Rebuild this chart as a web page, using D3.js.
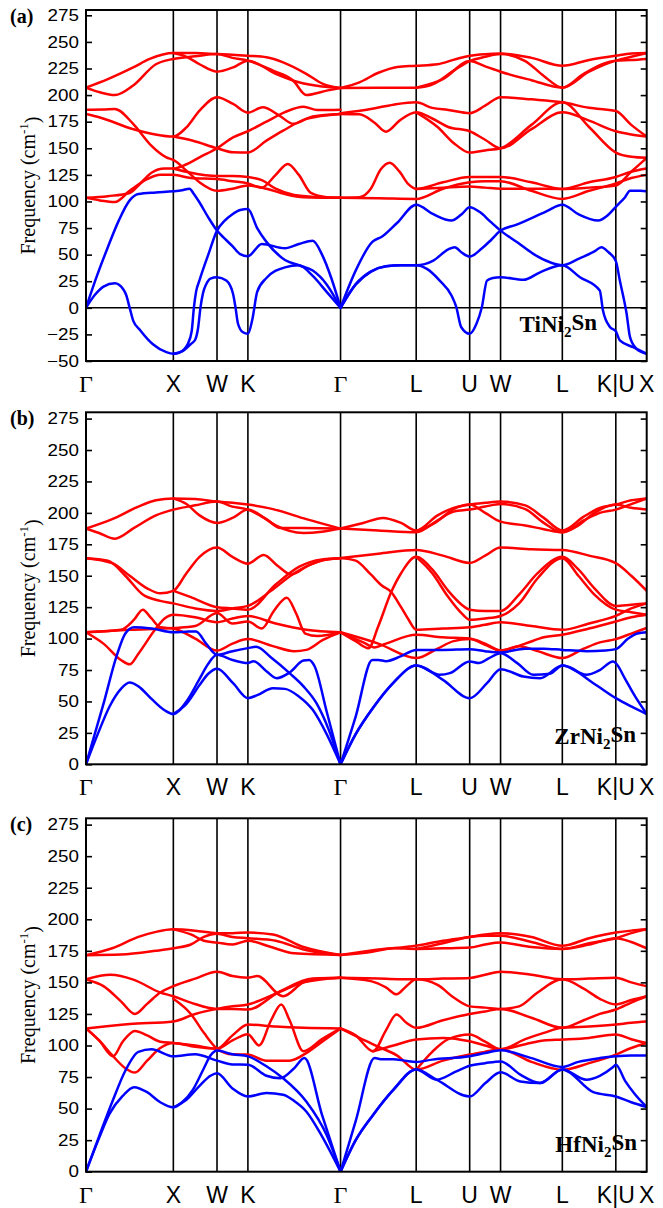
<!DOCTYPE html>
<html>
<head>
<meta charset="utf-8">
<script src="https://cdn.jsdelivr.net/npm/d3@7/dist/d3.min.js"></script>
<style>
  html, body { margin: 0; padding: 0; background: #fff; }
  svg { display: block; }
</style>
</head>
<body>
<svg id="chart" width="663" height="1208"></svg>
<script>
// High-symmetry path through the fcc Brillouin zone
const pathLabels = ["Γ", "X", "W", "K", "Γ", "L", "U", "W", "L", "K|U", "X"];
// Segment lengths in units of 2π/a
const segmentLengths = [1, 0.5, 0.3536, 1.0607, 0.8660, 0.6124, 0.3536, 0.7071, 0.6124, 0.3536];

const ticksTi = [-50, -25, 0, 25, 50, 75, 100, 125, 150, 175, 200, 225, 250, 275];
const ticksZrHf = [0, 25, 50, 75, 100, 125, 150, 175, 200, 225, 250, 275];

// Each branch: [k, frequency in cm^-1], k = segment index + fractional position along the segment

// ---------- TiNi2Sn ----------
const tiAcoustic = [
  [[0,0],[0.125,30],[0.25,57],[0.375,82],[0.5,101],[0.6,107],[0.8,108.5],[1,109.5],[1.2,110.5],[1.37,112],[1.47,107],[1.6,99],[1.8,85],[2,72.6],[2.25,65],[2.5,58],[2.75,50.5],[3,48.5],[3.15,60],[3.4,56],[3.55,60],[3.7,63],[3.8,50],[3.9,28],[4,0]],
  [[0,0],[0.1,12],[0.2,20],[0.33,23],[0.43,17],[0.46,12],[0.5,0],[0.54,-12],[0.62,-21],[0.77,-34.5],[0.92,-41.7],[1,-43.2],[1.14,-42],[1.33,-34],[1.42,-22],[1.47,0],[1.52,15],[1.6,26],[1.8,50],[2,72.6],[2.25,82],[2.5,88],[2.75,92],[3,93],[3.1,75],[3.2,62],[3.4,45],[3.55,40],[3.7,35],[3.85,22],[4,0]],
  [[1,-43.2],[1.2,-41],[1.4,-34],[1.5,-30],[1.57,-18],[1.62,0],[1.68,14],[1.75,22],[1.85,27.5],[2,28.8],[2.3,25.6],[2.52,13],[2.6,0],[2.68,-15],[2.84,-23],[3,-24.4],[3.05,-10],[3.1,15],[3.2,28],[3.4,38],[3.55,40],[3.7,30],[3.85,15],[4,0]],
  [[4,0],[4.2,35],[4.42,62],[4.55,67],[4.75,80],[5,97],[5.32,88],[5.66,82],[5.85,88],[6,94.5],[6.33,90],[6.67,81],[7,72.6],[7.27,61.6],[7.53,50.7],[7.8,42.8],[8,40],[8.3,46],[8.6,53],[8.73,57],[8.87,52],[9,44],[9.13,25.6],[9.35,-5.6],[9.46,-27.6],[9.67,-38.5],[10,-43.2]],
  [[4,0],[4.2,22],[4.4,34],[4.6,39],[4.8,40],[5,40],[5.32,44.4],[5.6,55],[5.72,57],[5.85,52],[6,48.2],[6.4,56],[6.7,64],[7,72.6],[7.25,78],[7.53,85],[7.75,91],[8,97],[8.3,88],[8.67,82],[8.85,87],[9,95],[9.3,104],[9.46,110],[9.8,110],[10,109.5]],
  [[4,0],[4.2,22],[4.4,34],[4.6,39],[4.8,40],[5,40],[5.2,36.6],[5.44,25.6],[5.66,11.6],[5.75,0.6],[5.84,-18],[6,-24.4],[6.22,-15],[6.39,0],[6.56,25.6],[6.75,28],[7,28.8],[7.37,26.3],[7.64,33.4],[8,40],[8.33,28.8],[8.7,16.3],[8.76,-2.5],[8.89,-18],[9,-22],[9.13,-30.7],[9.56,-37],[10,-43.2]]
];
const tiOptical = [
  [[0,207],[0.25,215],[0.54,226],[0.73,234],[1,239.5],[1.5,239.5],[2,238.6],[2.5,238],[3,237],[3.2,235.5],[3.38,230.8],[3.63,220],[3.81,210.5],[4,206.7]],
  [[0,207],[0.16,202.6],[0.33,200],[0.54,209],[0.8,229],[1,234],[1.5,236.5],[2,238.6],[2.5,235],[3,232.4],[3.27,223],[3.49,213.5],[3.63,200.1],[3.85,204.2],[4,206.7]],
  [[1,239.5],[1.3,236],[1.6,229],[2,222],[2.52,226],[3,232.4],[3.3,220],[3.55,212],[3.8,208],[4,206.7]],
  [[0,186.3],[0.2,186.5],[0.33,187],[0.54,172.9],[0.73,154],[0.92,141.5],[1,139],[1.3,129],[1.6,118],[2,110],[2.5,112],[3,115],[3.2,112],[3.4,107],[3.6,104],[4,103.4]],
  [[0,182.3],[0.16,179],[0.54,168],[1,161],[1.3,169.7],[1.6,185.4],[2,198],[2.52,191.7],[3,183.5],[3.16,188.5],[3.34,180.7],[3.49,173],[3.7,180],[4,182.3]],
  [[1,161],[1.45,157],[2,150],[2.52,146.2],[3,146],[3.2,157.2],[3.38,166.6],[3.63,177.6],[4,182.3]],
  [[0,103.4],[0.16,101],[0.33,99.5],[0.5,110],[0.7,121],[0.85,125],[1,125],[1.4,122],[2,121],[2.5,119],[3,117],[3.15,113],[3.3,125],[3.43,135.3],[3.55,125],[3.68,108],[3.85,104],[4,103.4]],
  [[0,103.4],[0.25,105],[0.5,108],[0.6,115],[0.75,127],[0.9,131],[1,131],[1.3,135],[1.6,141.5],[2,150],[2.52,160.3],[3,166],[3.2,175],[3.4,184],[3.6,189],[3.75,186],[4,186.3]],
  [[1,131],[1.4,127],[2,124],[2.5,124],[3,123],[3.15,120],[3.3,112],[3.5,106],[3.75,104],[4,103.4]],
  [[4,206.7],[4.25,212],[4.5,221],[4.75,226.5],[5,227.6],[5.4,229],[5.75,234],[6,237],[6.5,238.5],[7,239],[7.5,235],[8,227.6],[8.5,233],[9,237],[9.5,239],[10,239.5]],
  [[4,206.7],[4.5,207],[5,207],[5.35,211],[5.7,223],[6,232],[6.5,236],[7,238.6],[7.4,232],[7.7,218],[8,207],[8.4,220],[9,232.4],[9.5,233],[10,234]],
  [[5,207],[5.5,215],[6,232],[6.5,227],[7,222],[7.5,214],[8,207],[8.5,222],[9,232.4],[9.5,236],[10,239.5]],
  [[4,183],[4.4,187],[4.7,191],[5,193.2],[5.3,188],[5.6,186],[6,183],[6.5,190],[7,198],[7.5,196],[8,193.2],[8.5,188],[9,185],[9.5,172],[10,161]],
  [[4,182.3],[4.25,182],[4.45,174],[4.6,165.6],[4.78,176],[5,183.8],[5.3,178],[5.6,170],[6,166],[6.5,158],[7,150],[7.5,168],[8,183.8],[8.5,176],[9,166],[9.5,163],[10,161]],
  [[5,183.8],[5.4,170],[5.7,155],[6,146],[6.5,148],[7,150],[7.5,172],[8,193.2],[8.5,170],[9,146],[9.5,142],[10,141]],
  [[4,103.4],[4.25,104],[4.4,112],[4.53,130],[4.65,136.5],[4.78,128],[4.9,116],[5,111.8],[5.5,118],[6,123],[6.5,123],[7,123],[7.5,118],[8,111.8],[8.5,118],[9,123],[9.5,128],[10,131]],
  [[4,103.4],[4.5,103],[5,102.4],[5.5,112],[6,118],[6.5,119],[7,119],[7.5,110],[8,102.4],[8.5,110],[9,117],[9.5,122],[10,125]],
  [[5,111.8],[5.5,113],[6,114],[6.5,113],[7,112],[7.5,112],[8,111.8],[8.5,113],[9,115],[9.5,128],[10,141]]
];

// ---------- ZrNi2Sn ----------
const zrAcoustic = [
  [[0,0],[0.2,48],[0.35,86],[0.45,104],[0.55,109],[0.75,108],[1,105],[1.3,105.5],[1.52,105.7],[1.75,96],[2,87.1],[2.5,90],[3,92.4],[3.09,93.5],[3.25,85],[3.45,72.5],[3.6,62],[3.74,48.6],[3.87,28],[4,0]],
  [[0,0],[0.14,25],[0.27,46],[0.4,60],[0.5,65],[0.6,62],[0.75,52],[0.9,43],[1,40],[1.3,50],[1.6,68],[1.8,80],[2,87.1],[2.5,83],[3,80.5],[3.06,82],[3.2,74],[3.31,68.5],[3.45,73],[3.6,82.5],[3.66,83],[3.72,78],[3.85,42],[4,0]],
  [[1,40],[1.3,48],[1.6,63],[1.8,72],[2,76],[2.52,64.5],[3,52.6],[3.1,55],[3.27,60.5],[3.4,60],[3.55,54],[3.7,43.3],[3.85,24],[4,0]],
  [[4,0],[4.2,38],[4.42,83],[4.5,83],[4.6,82],[4.8,86],[5,91],[5.5,91],[6,91.6],[6.5,90],[7,89],[7.4,92],[7.7,92],[8,91],[8.45,90],[8.8,90.5],[9,91.6],[9.4,100],[9.7,104],[10,105]],
  [[4,0],[4.2,24],[4.43,45],[4.7,65],[5,78.6],[5.44,71.2],[5.63,72.5],[6,81.8],[6.3,80.5],[6.6,84],[7,88.4],[7.27,80.5],[7.53,71.2],[7.8,72],[8,78.6],[8.45,71.2],[8.7,75],[8.95,81.8],[9,80.5],[9.3,68],[9.6,55],[10,40]],
  [[4,0],[4.2,24],[4.43,45],[4.7,65],[5,78.6],[5.5,67.2],[6,52.6],[6.56,64.5],[7,75.7],[7.37,69.8],[7.64,68.5],[8,78.6],[8.58,64.5],[9,52.6],[9.5,46],[10,40]]
];
const zrOptical = [
  [[0,187.5],[0.3,195],[0.6,205],[0.8,210],[1,211.5],[1.5,211],[2,209],[2.5,208],[3,206.6],[3.27,203],[3.63,195],[4,187.5]],
  [[0,187.5],[0.15,184],[0.33,179.5],[0.55,188],[0.8,198],[1,202.6],[1.5,206],[2,209],[2.5,205],[3,202.6],[3.15,197],[3.3,190],[3.6,184],[3.8,185],[4,187.5]],
  [[1,211.5],[1.3,207],[1.6,198],[2,192],[2.5,196],[3,202.6],[3.2,195],[3.35,188],[3.6,188],[4,187.5]],
  [[0,164],[0.25,162],[0.45,150],[0.65,135],[0.85,130],[1,128],[1.5,124],[2,122],[2.5,124],[3,126],[3.25,138],[3.5,152],[3.75,161],[4,164]],
  [[0,164],[0.3,160],[0.5,150],[0.7,140],[0.85,136],[1,138],[1.3,152],[1.6,165],[2,172.5],[2.5,165],[3,159.6],[3.17,166.5],[3.32,158],[3.47,151],[3.65,158],[3.85,163],[4,164]],
  [[1,138],[1.4,133],[2,125],[2.5,124],[3,123],[3.3,143],[3.55,157],[3.8,163],[4,164]],
  [[0,105],[0.2,96],[0.4,83],[0.5,79.5],[0.6,88],[0.8,108],[0.9,116],[1,119],[1.5,117],[2,113],[2.5,116],[3,118],[3.3,112],[3.63,107],[4,105]],
  [[0,105],[0.4,107],[0.55,115],[0.65,123],[0.75,116],[0.85,109],[1,108],[1.5,100],[2,90.5],[2.5,96],[3,99.6],[3.27,94],[3.5,90],[3.63,91],[3.81,99],[4,105]],
  [[0,105],[0.5,107],[1,108.4],[1.5,110],[2,120.3],[2.5,112],[3,113.6],[3.15,108],[3.28,122],[3.42,132.5],[3.52,120],[3.62,104],[3.75,102],[4,105]],
  [[4,187.5],[4.3,192],[4.56,196],[4.8,192],[5,186],[5.4,198],[5.7,204],[6,206.6],[6.5,208],[7,209],[7.4,206],[7.7,196],[8,186],[8.4,197],[8.7,204],[9,206.6],[9.5,210],[10,211.5]],
  [[4,187.5],[4.5,186],[5,184.5],[5.4,194],[5.7,201],[6,202.6],[6.5,205],[7,207],[7.4,203],[7.7,192],[8,184.5],[8.4,194],[8.7,200],[9,202.6],[9.5,207],[10,211.5]],
  [[5,185],[5.35,192],[5.7,203],[6,206.6],[6.5,200],[7,193],[7.4,190],[7.7,187],[8,184.5],[8.3,190],[8.6,200],[9,206.6],[9.5,204],[10,202.6]],
  [[4,164],[4.5,167.5],[5,170.5],[5.5,166],[6,160.2],[6.5,166],[7,172.5],[7.5,171],[8,170.5],[8.5,166],[9,160],[9.5,150],[10,138]],
  [[4,164],[4.2,162],[4.4,151],[4.55,142],[4.67,137],[4.8,125],[4.9,115],[5,107],[5.5,108],[6,109],[6.5,111],[7,113],[7.5,110],[8,107],[8.5,112],[9,118],[9.5,124],[10,128]],
  [[4,105],[4.2,98],[4.37,92.4],[4.5,110],[4.67,137],[4.8,152],[5,165],[5.3,155],[5.6,138],[5.85,127],[6,123],[6.5,122],[7,122],[7.3,135],[7.6,152],[8,165],[8.3,155],[8.6,140],[9,126],[9.5,127],[10,128]],
  [[5,165],[5.3,152],[5.6,133],[5.85,120],[6,115],[6.5,116],[7,118],[7.3,128],[7.6,148],[8,164],[8.3,150],[8.6,135],[9,123],[9.5,121],[10,119]],
  [[4,105],[4.5,96],[5,84.5],[5.4,92],[5.7,98],[6,99.6],[6.5,95],[7,90.5],[7.3,94],[7.6,90],[8,84.5],[8.4,92],[8.7,97],[9,99.6],[9.5,104],[10,108.4]],
  [[4,105],[4.3,97],[4.45,93],[4.6,96],[5,103],[5.5,101],[6,100],[6.5,96],[7,90.5],[7.4,96],[7.7,101],[8,103],[8.5,108],[9,113.6],[9.5,117],[10,119]]
];

// ---------- HfNi2Sn ----------
const hfAcoustic = [
  [[0,0],[0.15,28],[0.31,57],[0.45,80],[0.6,95],[0.75,97],[1,91.4],[1.5,93],[2,88],[2.5,85],[3,84.8],[3.2,76],[3.35,74],[3.5,82],[3.61,90],[3.8,45],[4,0]],
  [[0,0],[0.14,25],[0.27,46],[0.42,60],[0.55,67],[0.7,63],[0.85,55],[1,51],[1.2,55],[1.45,65],[1.7,82],[1.85,92],[2,96],[2.5,93],[3,91.4],[3.2,83.5],[3.38,74],[3.63,55.6],[3.85,29],[4,0]],
  [[1,51],[1.3,57],[1.6,68],[1.85,76],[2,78],[2.5,66],[3,59.6],[3.2,62.3],[3.38,61],[3.5,56],[3.63,47.7],[3.8,28],[4,0]],
  [[4,0],[4.2,40],[4.45,90],[4.55,89],[4.7,89],[4.85,88],[5,87],[5.3,88.8],[6,91.4],[6.5,94],[7,96.2],[7.5,90],[8,83],[8.3,87],[8.7,90],[9,91.4],[9.5,92],[10,92]],
  [[4,0],[4.2,25],[4.43,45],[4.7,65],[5,81],[5.38,72.9],[6,59.6],[6.5,70],[7,78.7],[7.32,71.5],[7.64,70.3],[8,81],[8.58,63],[9,59.6],[9.5,55],[10,51.2]],
  [[4,0],[4.2,25],[4.43,45],[4.7,65],[5,81],[5.38,72.9],[5.75,79.5],[6,84],[6.5,86],[7,87.4],[7.32,76.9],[7.64,70.3],[8,81],[8.45,72.9],[8.7,76],[8.95,83],[9,84.8],[9.3,72],[9.6,62],[10,51.2]]
];
const hfOptical = [
  [[0,171.5],[0.3,177],[0.6,186],[0.8,190],[1,192],[1.5,191],[2,189],[2.5,189],[3,189.5],[3.27,188],[3.6,178],[4,171.7]],
  [[0,171.5],[0.4,172],[0.8,175],[1,177],[1.4,180],[1.7,186],[2,188.5],[2.5,186],[3,185],[3.3,183],[3.6,176],[4,171.7]],
  [[1,192],[1.4,188],[1.7,183],[2,181.5],[2.5,180],[3,183],[3.25,178],[3.5,173],[4,171.7]],
  [[0,152.4],[0.28,156],[0.55,152],[0.85,142],[1,139],[1.4,134],[2,129],[2.5,129],[3,128.5],[3.35,143],[3.7,153],[4,153.7]],
  [[0,152.4],[0.2,147],[0.4,135],[0.56,125],[0.7,133],[0.85,142],[1,147],[1.5,153],[2,158.5],[2.5,155],[3,153.7],[3.1,155],[3.38,139],[3.6,150],[3.8,153],[4,153.7]],
  [[0,113.5],[0.5,117],[1,119],[1.5,125],[2,129],[2.5,131],[3,132.5],[3.3,141],[3.6,150],[4,153.7]],
  [[0,113.5],[0.15,104],[0.31,91.5],[0.42,103],[0.56,111.5],[0.7,108],[0.85,103],[1,102],[1.5,100],[2,97.5],[2.5,104],[3,109],[3.12,100],[3.25,120],[3.36,132.5],[3.45,120],[3.6,95.4],[3.8,105],[4,113.5]],
  [[0,113.5],[0.15,104],[0.31,91.5],[0.45,82],[0.56,78.5],[0.7,88],[0.85,98],[1,102],[1.5,99],[2,97.5],[2.5,108],[3,116.6],[3.3,115],[3.6,114],[4,113.5]],
  [[1,137],[1.4,125],[1.7,110],[2,97.5],[2.5,93],[3,92.8],[3.2,88],[3.45,88],[3.63,94],[3.82,104],[4,113.5]],
  [[4,171.7],[4.5,176],[5,179],[5.5,183],[6,186],[6.5,188],[7,189],[7.5,186],[8,179],[8.5,185],[9,189.5],[9.5,191],[10,192]],
  [[4,171.7],[4.4,174],[4.7,177],[5,176.5],[5.5,177],[6,177.6],[6.5,180],[7,181.5],[7.5,178],[8,176.5],[8.5,180],[9,185],[9.5,182],[10,177]],
  [[5,176.5],[5.5,181],[6,186],[6.5,187],[7,187],[7.5,182],[8,176.5],[8.5,181],[9,185],[9.5,189],[10,192]],
  [[4,153.7],[4.5,153],[5,152.4],[5.5,153],[6,153.5],[6.5,156],[7,158.5],[7.5,156],[8,152.4],[8.5,153],[9,153.7],[9.5,150],[10,147]],
  [[4,153.7],[4.4,151],[4.6,146],[4.74,140.5],[4.87,147],[5,152.4],[5.4,148],[5.7,138],[6,131],[6.5,130],[7,129],[7.3,131],[7.6,142],[8,152.4],[8.4,145],[8.7,137],[9,132.5],[9.5,136],[10,139]],
  [[4,113.5],[4.2,108],[4.43,95.4],[4.6,112],[4.74,124.6],[4.87,118],[5,114],[5.5,120],[6,125],[6.5,127],[7,129],[7.5,122],[8,114],[8.4,120],[8.7,125],[9,128.5],[9.5,134],[10,139]],
  [[4,113.5],[4.25,106],[4.5,99],[4.75,92],[5,80.8],[5.5,88],[6,92.8],[6.5,95],[7,97],[7.5,87],[8,80.8],[8.5,86],[9,92.8],[9.5,98],[10,102]],
  [[4.43,95.4],[4.7,100],[5,104.7],[5.5,106],[6,103.3],[6.5,100],[7,97],[7.4,101],[7.7,104],[8,104.7],[8.5,106],[9,108.7],[9.5,105],[10,102]],
  [[5,80.8],[5.3,95],[5.6,105],[6,108.7],[6.5,103],[7,97],[7.4,105],[7.7,110],[8,114],[8.5,115],[9,116.6],[9.5,118],[10,119]]
];

const panels = [
  { tag: "(a)", formula: ["TiNi", "2", "Sn"], acoustic: tiAcoustic, optical: tiOptical, yMin: -50, ticks: ticksTi,
    top: 10, bottom: 361, nameX: 597, nameY: 332 },
  { tag: "(b)", formula: ["ZrNi", "2", "Sn"], acoustic: zrAcoustic, optical: zrOptical, yMin: 0, ticks: ticksZrHf,
    top: 412.3, bottom: 764.3, nameX: 636, nameY: 744 },
  { tag: "(c)", formula: ["HfNi", "2", "Sn"], acoustic: hfAcoustic, optical: hfOptical, yMin: 0, ticks: ticksZrHf,
    top: 818.3, bottom: 1171.7, nameX: 637, nameY: 1152 }
];

const yMax = 280;
const plotLeft = 86, plotRight = 646.7;
const sansFont = "Liberation Sans, Arial, Helvetica, sans-serif";
const serifFont = "Liberation Serif, Times New Roman, Times, serif";

const cumulative = [0];
segmentLengths.forEach((len, i) => cumulative.push(cumulative[i] + len));
const kToDistance = k => {
  const s = Math.min(Math.floor(k), segmentLengths.length - 1);
  return cumulative[s] + (k - s) * segmentLengths[s];
};

const x = d3.scaleLinear().domain([0, cumulative[cumulative.length - 1]]).range([plotLeft, plotRight]);
const svg = d3.select("#chart");

panels.forEach((p, idx) => {
  const y = d3.scaleLinear().domain([p.yMin, yMax]).range([p.bottom, p.top]);
  const g = svg.append("g");

  const clipId = "clip" + idx;
  svg.append("clipPath").attr("id", clipId)
    .append("rect")
    .attr("x", plotLeft).attr("y", p.top)
    .attr("width", plotRight - plotLeft).attr("height", p.bottom - p.top);

  // vertical lines at the interior high-symmetry points
  g.selectAll("line.kline")
    .data(cumulative.slice(1, -1))
    .join("line")
    .attr("x1", d => x(d)).attr("x2", d => x(d))
    .attr("y1", p.top).attr("y2", p.bottom)
    .attr("stroke", "#000").attr("stroke-width", 1.6);

  if (p.yMin < 0) {
    g.append("line")
      .attr("x1", plotLeft).attr("x2", plotRight)
      .attr("y1", y(0)).attr("y2", y(0))
      .attr("stroke", "#000").attr("stroke-width", 1.6);
  }

  const line = d3.line()
    .x(d => x(kToDistance(d[0])))
    .y(d => y(d[1]))
    .curve(d3.curveMonotoneX);

  const bands = g.append("g").attr("clip-path", `url(#${clipId})`).attr("fill", "none")
    .attr("stroke-width", 2.5).attr("stroke-linejoin", "round").attr("stroke-linecap", "round");
  bands.selectAll("path.optical").data(p.optical).join("path")
    .attr("class", "optical").attr("d", line).attr("stroke", "#ff0000");
  bands.selectAll("path.acoustic").data(p.acoustic).join("path")
    .attr("class", "acoustic").attr("d", line).attr("stroke", "#0000ff");

  // frame
  g.append("rect")
    .attr("x", plotLeft).attr("y", p.top)
    .attr("width", plotRight - plotLeft).attr("height", p.bottom - p.top)
    .attr("fill", "none").attr("stroke", "#000").attr("stroke-width", 2);

  // inward ticks on both sides, labels on the left
  const left = g.append("g").attr("transform", `translate(${plotLeft},0)`)
    .call(d3.axisLeft(y).tickValues(p.ticks).tickSize(-6).tickPadding(7).tickFormat(d3.format("d")));
  left.select(".domain").remove();
  left.selectAll(".tick line").attr("stroke", "#000").attr("stroke-width", 1.6);
  left.selectAll(".tick text")
    .attr("x", null)
    .attr("transform", "translate(-7,0) scale(1.14,1)")
    .attr("font-family", sansFont).attr("font-size", 16.5).attr("fill", "#000");

  const right = g.append("g").attr("transform", `translate(${plotRight},0)`)
    .call(d3.axisRight(y).tickValues(p.ticks).tickSize(-6).tickFormat(""));
  right.select(".domain").remove();
  right.selectAll(".tick line").attr("stroke", "#000").attr("stroke-width", 1.6);

  // high-symmetry point labels
  g.selectAll("text.klabel")
    .data(pathLabels)
    .join("text")
    .attr("class", "klabel")
    .attr("x", (d, i) => x(cumulative[i]))
    .attr("y", p.bottom + 31)
    .attr("text-anchor", "middle")
    .attr("font-family", d => d === "Γ" ? serifFont : sansFont)
    .attr("font-size", d => d === "Γ" ? 24 : 23)
    .attr("fill", "#000")
    .text(d => d);

  // panel tag
  g.append("text")
    .attr("x", 10).attr("y", p.top + 13)
    .attr("font-family", serifFont).attr("font-weight", "bold").attr("font-size", 20)
    .text(p.tag);

  // y-axis title
  const title = g.append("text")
    .attr("transform", `translate(35,${(p.top + p.bottom) / 2}) rotate(-90)`)
    .attr("text-anchor", "middle")
    .attr("font-family", serifFont).attr("font-size", 20).attr("fill", "#000");
  title.append("tspan").text("Frequency (cm");
  title.append("tspan").attr("font-size", 13).attr("dy", "-0.55em").text("-1");
  title.append("tspan").attr("dy", "0.55em").text(")");

  // compound name
  const name = g.append("text")
    .attr("x", p.nameX).attr("y", p.nameY)
    .attr("text-anchor", "end")
    .attr("font-family", serifFont).attr("font-weight", "bold").attr("font-size", 23).attr("fill", "#000");
  name.append("tspan").text(p.formula[0]);
  name.append("tspan").attr("font-size", 15).attr("dy", "0.3em").text(p.formula[1]);
  name.append("tspan").attr("dy", "-0.3em").text(p.formula[2]);
});
</script>
</body>
</html>
